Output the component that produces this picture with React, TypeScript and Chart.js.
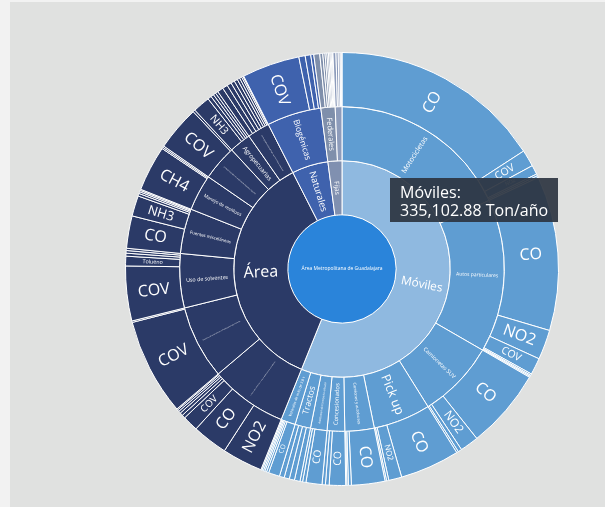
import React, { useEffect, useRef } from "react";
import { Chart, registerables } from "chart.js";
Chart.register(...registerables);

const ROOT_LABEL = "Área Metropolitana de Guadalajara";
const HOVER_TITLE = "Móviles:";
const HOVER_VALUE = "335,102.88 Ton/año";

// Level 1: sectors
const sectorLabels = ["Móviles", "Área", "Naturales", "Fijas"];

// Level 2: sources (index of parent sector)
const sourceLabels = [
  "Motocicletas",
  "Autos particulares",
  "Camionetas SUV",
  "Pick up",
  "Camiones y autobuses",
  "Concesionados",
  "Autobuses de transporte urbano",
  "Tractos",
  "Vehículos de más de 3.8 t",
  "Combustión en fuentes habitacionales, comerciales e industriales ligeras de gas LP, gas natural y leña",
  "Distribución y almacenamiento de combustibles y gas licuado de petróleo",
  "Uso de solventes",
  "Fuentes misceláneas",
  "Manejo de residuos",
  "Comercios y servicios con emisiones de compuestos orgánicos",
  "Agropecuarias",
  "Quemas agrícolas, incendios forestales y quema de residuos a cielo abierto",
  "Biogénicas",
  "Federales",
  "Estatales",
];
const sourceSector = [0, 0, 0, 0, 0, 0, 0, 0, 0, 1, 1, 1, 1, 1, 1, 1, 1, 2, 3, 3];

// Level 3: pollutants (Ton/año) and their parent source
const pollutantLabels = [
  "CO", "COV", "NO2", "SO2", "PM10",
  "CO", "NO2", "COV", "SO2", "PM10", "NH3",
  "CO", "NO2", "COV", "PM10",
  "CO", "NO2", "COV", "PM10",
  "CO", "NO2", "COV", "PM10",
  "CO", "NO2", "COV",
  "CO", "NO2", "COV",
  "CO", "NO2", "COV", "PM10",
  "CO", "NO2", "COV", "PM10", "SO2", "NH3",
  "NO2", "CO", "COV", "PM10", "PM2.5", "SO2", "NH3", "CH4",
  "COV", "Benceno",
  "COV", "Tolueno", "Xileno", "Hexano", "Acetona",
  "CO", "NH3", "PM10", "NO2", "COV", "PM2.5",
  "CH4", "COV", "NH3",
  "COV", "PM10",
  "NH3", "CH4", "PM10", "COV", "N2O",
  "PM10", "CO", "PM2.5", "COV", "NO2", "SO2", "NH3", "CH4", "N2O",
  "COV", "NO", "CO", "CH4",
  "SO2", "NO2", "PM10", "CO", "PM2.5", "COV", "NH3", "CH4", "N2O",
  "SO2", "NO2", "PM10", "CO", "COV",
];
const pollutantValues = [
  94560, 7470, 4150, 830, 830,
  68850, 13270, 7470, 660, 500, 500,
  35670, 8300, 1660, 830,
  26540, 5810, 1000, 660,
  14930, 1330, 660, 500,
  7300, 1660, 1490,
  7130, 1490, 1160,
  2490, 2320, 2320, 2160,
  4980, 1000, 830, 660, 660, 500,
  18080, 15760, 6970, 1490, 1330, 1000, 830, 500,
  43130, 660,
  24390, 4310, 1330, 1160, 1000,
  14430, 9120, 1160, 830, 660, 500,
  20240, 660, 660,
  19910, 1000,
  7630, 1660, 1330, 1160, 1160,
  2650, 2320, 1990, 1660, 1490, 1160, 1000, 660, 330,
  25710, 2820, 2490, 1330,
  2650, 1330, 1000, 830, 660, 660, 500, 500, 330,
  1330, 1000, 830, 500, 330,
];
const pollutantSource = [
  0, 0, 0, 0, 0,
  1, 1, 1, 1, 1, 1,
  2, 2, 2, 2,
  3, 3, 3, 3,
  4, 4, 4, 4,
  5, 5, 5,
  6, 6, 6,
  7, 7, 7, 7,
  8, 8, 8, 8, 8, 8,
  9, 9, 9, 9, 9, 9, 9, 9,
  10, 10,
  11, 11, 11, 11, 11,
  12, 12, 12, 12, 12, 12,
  13, 13, 13,
  14, 14,
  15, 15, 15, 15, 15,
  16, 16, 16, 16, 16, 16, 16, 16, 16,
  17, 17, 17, 17,
  18, 18, 18, 18, 18, 18, 18, 18, 18,
  19, 19, 19, 19, 19,
];

// styles
const ROOT_COLOR = "#2a84da";
const SECTOR_COLORS = ["#8fb9e0", "#2b3a67", "#3f62ad", "#8090b0"];
const DESCENDANT_COLORS = ["#5f9dd2", "#2b3a67", "#3f62ad", "#7f8fab"];
const SOURCE_COLOR_OVERRIDE: Record<number, string> = { 19: "#8d9cbb" };
const FONT = '"Open Sans", "DejaVu Sans", sans-serif';
const MAX_FONT = 16;

const sourceValues = sourceLabels.map((_, s) =>
  pollutantValues.reduce((acc, v, i) => (pollutantSource[i] === s ? acc + v : acc), 0)
);
const sectorValues = sectorLabels.map((_, k) =>
  sourceValues.reduce((acc, v, i) => (sourceSector[i] === k ? acc + v : acc), 0)
);
const totalValue = sectorValues.reduce((a, b) => a + b, 0);

const sourceColor = (s: number) => SOURCE_COLOR_OVERRIDE[s] ?? DESCENDANT_COLORS[sourceSector[s]];

const labelPlugin = {
  id: "sunburstLabels",
  afterDatasetsDraw(chart: any) {
    const ctx: CanvasRenderingContext2D = chart.ctx;
    chart.data.datasets.forEach((ds: any, di: number) => {
      const meta = chart.getDatasetMeta(di);
      const texts: string[] = ds.sectorTexts || [];
      meta.data.forEach((el: any, i: number) => {
        const text = texts[i];
        if (!text) return;
        const p = el.getProps(["x", "y", "startAngle", "endAngle", "innerRadius", "outerRadius"], true);
        const span = p.endAngle - p.startAngle;
        ctx.save();
        ctx.fillStyle = "#ffffff";
        ctx.textAlign = "center";
        ctx.textBaseline = "middle";
        if (p.innerRadius < 1 && span > 6) {
          ctx.font = `10px ${FONT}`;
          const w10 = ctx.measureText(text).width;
          const s = (10 * p.outerRadius * 1.5) / w10;
          ctx.font = `${s}px ${FONT}`;
          ctx.fillText(text, p.x, p.y);
          ctx.restore();
          return;
        }
        const mid = (p.startAngle + p.endAngle) / 2;
        const L = p.outerRadius - p.innerRadius;
        const rMid = (p.innerRadius + p.outerRadius) / 2;
        ctx.font = `10px ${FONT}`;
        const w10 = ctx.measureText(text).width;
        const sW = Math.min(MAX_FONT, (10 * (L - 12)) / w10);
        let s = sW;
        let heightLimited = false;
        for (let k = 0; k < 5; k++) {
          const w = (w10 * s) / 10;
          const rIn = rMid - w / 2;
          const chord = span >= Math.PI ? Infinity : 2 * rIn * Math.sin(span / 2);
          const sH = (chord - 2) / 1.15;
          heightLimited = sH < sW;
          s = Math.min(sW, sH);
        }
        if (s < 0.5 || (heightLimited && s < 4)) {
          ctx.restore();
          return;
        }
        const rot = mid < Math.PI / 2 ? mid : mid - Math.PI;
        ctx.translate(p.x + rMid * Math.cos(mid), p.y + rMid * Math.sin(mid));
        ctx.rotate(rot);
        if (s < 1.5) {
          // sub-pixel text renders as a faint streak
          ctx.scale(s / 1.5, s / 1.5);
          ctx.font = `1.5px ${FONT}`;
        } else {
          ctx.font = `${s}px ${FONT}`;
        }
        ctx.fillText(text, 0, 0);
        ctx.restore();
      });
    });
  },
  afterDraw(chart: any) {
    const ctx: CanvasRenderingContext2D = chart.ctx;
    ctx.save();
    const x = 390, y = 178, w = 168, h = 44;
    ctx.fillStyle = "rgba(44,52,64,0.92)";
    ctx.fillRect(x, y, w, h);
    ctx.fillStyle = "#ffffff";
    ctx.font = `16px ${FONT}`;
    ctx.textAlign = "left";
    ctx.textBaseline = "alphabetic";
    ctx.fillText(HOVER_TITLE, x + 10, y + 20);
    ctx.fillText(HOVER_VALUE, x + 10, y + 38);
    ctx.restore();
  },
};

export default function App() {
  const ref = useRef<HTMLCanvasElement>(null);
  useEffect(() => {
    const canvas = ref.current;
    if (!canvas) return;
    const chart = new Chart(canvas, {
      type: "doughnut",
      data: {
        labels: pollutantLabels,
        datasets: [
          {
            data: pollutantValues,
            backgroundColor: pollutantSource.map((s) => sourceColor(s)),
            borderColor: "#ffffff",
            borderWidth: 1,
            sectorTexts: pollutantLabels,
          } as any,
          {
            data: sourceValues,
            backgroundColor: sourceLabels.map((_, s) => sourceColor(s)),
            borderColor: "#ffffff",
            borderWidth: 1,
            sectorTexts: sourceLabels,
          } as any,
          {
            data: sectorValues,
            backgroundColor: SECTOR_COLORS,
            borderColor: "#ffffff",
            borderWidth: 1,
            sectorTexts: sectorLabels,
          } as any,
          {
            data: [totalValue],
            backgroundColor: [ROOT_COLOR],
            borderColor: "#ffffff",
            borderWidth: 0,
            sectorTexts: [ROOT_LABEL],
          } as any,
        ],
      },
      options: {
        responsive: false,
        animation: false,
        devicePixelRatio: 1,
        cutout: 0,
        events: [],
        layout: { padding: { left: 125, top: 52, right: 46, bottom: 21 } },
        plugins: { legend: { display: false }, tooltip: { enabled: false } },
      } as any,
      plugins: [labelPlugin],
    });
    return () => chart.destroy();
  }, []);
  return (
    <div style={{ position: "fixed", left: 0, top: 0, width: 605, height: 507, background: "#f2f2f2" }}>
      <div style={{ position: "absolute", left: 10, top: 2, right: 0, bottom: 0, background: "#e0e1e0" }} />
      <canvas
        ref={ref}
        width={605}
        height={507}
        style={{ position: "absolute", left: 0, top: 0, width: 605, height: 507 }}
      />
    </div>
  );
}
